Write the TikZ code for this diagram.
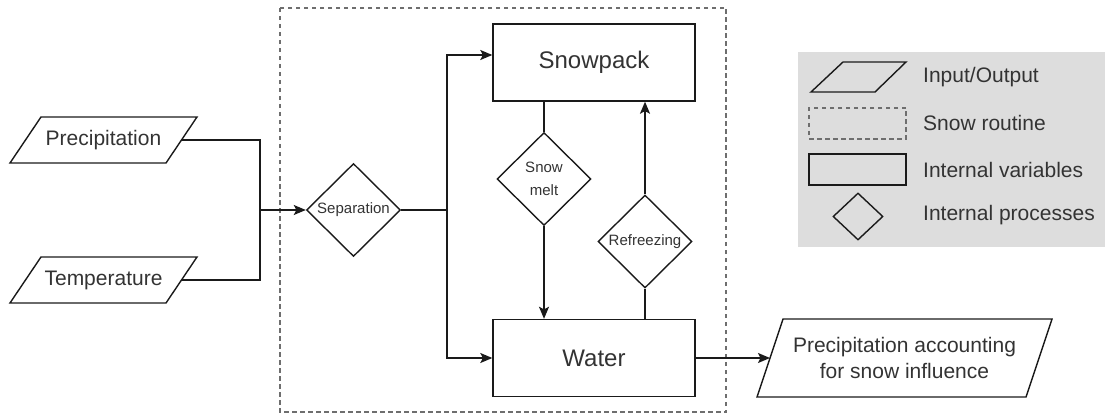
\documentclass[tikz,border=0pt]{standalone}
\usepackage{fontspec}
\setmainfont{Liberation Sans}
\usetikzlibrary{shapes.geometric,arrows.meta}
\definecolor{txt}{HTML}{333333}
\definecolor{ln}{HTML}{1A1A1A}
\definecolor{legbg}{HTML}{DDDDDD}
\definecolor{dash}{HTML}{6E6E6E}
\tikzset{
  base/.style={draw=ln, line width=1.4pt, text=txt, inner sep=0pt},
  iobox/.style={draw=ln, line width=1.4pt, line join=miter},
  iotext/.style={text=txt, inner sep=0pt, align=center, font=\fontsize{21}{26}\selectfont},
  var/.style={base, rectangle, minimum width=202, minimum height=77,
    font=\fontsize{24}{28}\selectfont},
  proc/.style={base, diamond, minimum width=94, minimum height=93,
    align=center, font=\fontsize{15}{23}\selectfont},
  conn/.style={draw=ln, line width=1.4pt},
  arr/.style={conn, -{Stealth[length=12pt,width=10pt,inset=2.5pt]}},
  routine/.style={draw=dash, line width=1.2pt, dash pattern=on 4.5pt off 3.5pt},
  legtext/.style={anchor=west, text=txt, inner sep=0pt, font=\fontsize{21}{25}\selectfont},
}
\begin{document}
\begin{tikzpicture}[x=1pt, y=-1pt]
\useasboundingbox (0,0) rectangle (1107,414);
% snow routine frame
\draw[routine] (280,8) rectangle (726,412);
% legend
\fill[legbg] (798,52) rectangle (1105,247);

% inputs
\draw[iobox] (10,163) -- (41,117) -- (197,117) -- (166,163) -- cycle;
\node[iotext] (prec) at (103.5,140) {Precipitation};
\coordinate (prec-e) at (181.5,140);
\draw[iobox] (10,303) -- (41,257) -- (197,257) -- (166,303) -- cycle;
\node[iotext] (temp) at (103.5,280) {Temperature};
\coordinate (temp-e) at (181.5,280);
\coordinate (join) at (260,210);

% processes
\node[proc] (sep) at (353.5,210) {Separation};
\coordinate (split) at (447,210);
\node[var] (snow) at (594,62.5) {Snowpack};
\node[var] (water) at (594,358) {Water};
\node[proc] (melt) at (544,179) {Snow\\melt};
\node[proc] (refr) at (645,241.5) {Refreezing};

% output
\draw[iobox] (757,397) -- (783,319) -- (1052,319) -- (1026,397) -- cycle;
\node[iotext] (out) at (904.5,358) {Precipitation accounting\\for snow influence};
\coordinate (out-w) at (770,358);

% connectors
\draw[conn] (prec-e) -| (join);
\draw[conn] (temp-e) -| (join);
\draw[arr] (join) -- (sep.west);
\draw[conn] (sep.east) -- (split);
\draw[arr] (split) |- ([yshift=7.5pt]snow.west);
\draw[arr] (split) |- (water.west);
\draw[conn] (snow.south -| melt.north) -- (melt.north);
\draw[arr] (melt.south) -- (melt.south |- water.north);
\draw[conn] (water.north -| refr.south) -- (refr.south);
\draw[arr] (refr.north) -- (refr.north |- snow.south);
\draw[arr] (water.east) -- (out-w);

% legend items
\draw[iobox] (811,92) -- (843,62) -- (906,62) -- (875,92) -- cycle;
\node[legtext] (lioT) at (923,77) {Input/Output};
\node[routine, rectangle, minimum width=97, minimum height=31, inner sep=0pt] (lrt) at (857.5,123.5) {};
\node[legtext] (lrtT) at (923,123) {Snow routine};
\node[base, rectangle, minimum width=97, minimum height=31] (lvar) at (857.5,169.5) {};
\node[legtext] (lvarT) at (923,170) {Internal variables};
\node[base, diamond, minimum width=50, minimum height=47] (lproc) at (858,216.5) {};
\node[legtext] (lprocT) at (923,215) {Internal processes};
\end{tikzpicture}
\end{document}
